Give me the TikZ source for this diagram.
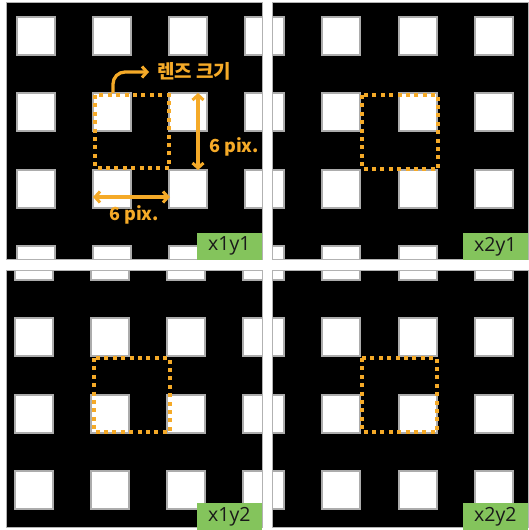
\documentclass[tikz,border=0pt]{standalone}
\usepackage{fontspec}
\setmainfont{Open Sans}
\newfontfamily\kor{Noto Sans CJK KR}
\usetikzlibrary{arrows.meta}
\definecolor{lensorange}{RGB}{245,170,40}
\definecolor{taggreen}{RGB}{132,196,92}
\tikzset{
  hole/.style={fill=white,draw=gray!65,line width=1.2pt},
  lensbox/.style={draw=lensorange,line width=3.8pt,dash pattern=on 4pt off 4.4pt},
  tagbox/.style={fill=taggreen,draw=none,text=black!90,font=\fontsize{19.5}{19.5}\selectfont,inner sep=0pt,minimum width=65pt,minimum height=27pt,anchor=south east},
  orangearrow/.style={draw=lensorange,line width=3.3pt,arrows={-Straight Barb[length=5pt,width=11pt,line width=3pt]}},
  dblarrow/.style={draw=lensorange,line width=3.3pt,arrows={Straight Barb[length=5pt,width=11pt,line width=3pt]-Straight Barb[length=5pt,width=11pt,line width=3pt]}},
  pixlabel/.style={text=lensorange,font=\kor\bfseries\fontsize{18}{18}\selectfont,inner sep=0pt},
}
\begin{document}
\begin{tikzpicture}[x=1pt,y=-1pt]
\useasboundingbox (0,0) rectangle (528,530);
\fill[white] (0,0) rectangle (528,530);
% panels
\foreach \px/\py/\cols/\rows in {
  6/2/{17,93,169,245}/{17,93,170,246},
  272/2/{246,322,399,475}/{17,93,170,246},
  6/270/{15,91,167,243}/{242,318,395,471},
  272/270/{246,322,399,475}/{242,318,395,471}}{
  \begin{scope}
    \clip (\px,\py) rectangle ++(256,257);
    \fill[black] (\px,\py) rectangle ++(256,257);
    \foreach \cx in \cols {
      \foreach \cy in \rows {
        \draw[hole] (\cx,\cy) rectangle ++(38,38);
      }
    }
  \end{scope}
  \draw[draw=gray!60,line width=0.6pt] (\px,\py) rectangle ++(256,257);
}
% lens boxes
\draw[lensbox] (95,95) rectangle (169,168);
\draw[lensbox] (362,95) rectangle (438,169);
\draw[lensbox] (94,358) rectangle (170,432);
\draw[lensbox] (362,358) rectangle (437,432);
% tags
\node[tagbox] (t11) at (262,260) {x1y1};
\node[tagbox] (t21) at (528,260) {x2y1};
\node[tagbox] (t12) at (262,530) {x1y2};
\node[tagbox] (t22) at (528,530) {x2y2};
% annotations in panel x1y1
\coordinate (lensstart) at (113,93);
\node[pixlabel,anchor=west,font=\kor\bfseries\fontsize{19}{19}\selectfont] (lens) at (157,71) {렌즈 크기};
\draw[orangearrow] (lensstart) -- (113,84) to[out=90,in=180] (125,72) -- (149,72);
\coordinate (vtop) at (198,93);
\coordinate (vbot) at (198,170);
\draw[dblarrow] (vtop) -- (vbot);
\node[pixlabel,anchor=west] (vlab) at (209,147) {6 pix.};
\coordinate (hleft) at (93,197);
\coordinate (hright) at (170,197);
\draw[dblarrow] (hleft) -- (hright);
\node[pixlabel] (hlab) at (134,215) {6 pix.};
\end{tikzpicture}
\end{document}
